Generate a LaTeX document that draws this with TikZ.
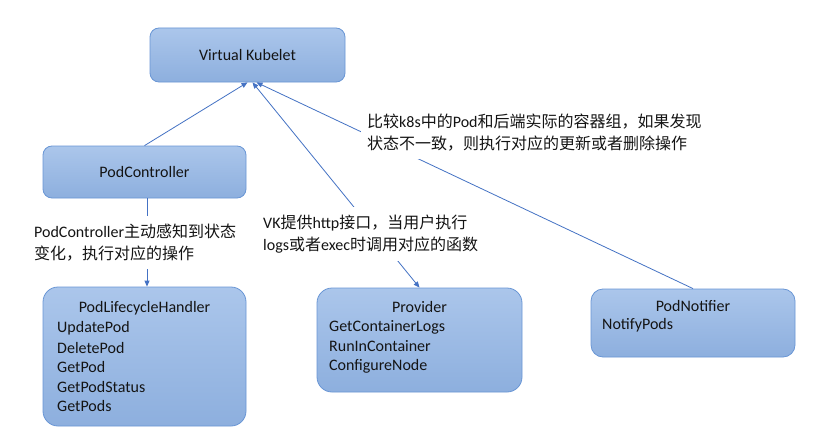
\documentclass[tikz,border=0pt]{standalone}
\usepackage{fontspec}
\setmainfont{Carlito}
\newfontfamily\cjk{Noto Sans CJK SC}
\usetikzlibrary{arrows.meta,calc}
\definecolor{boxtop}{RGB}{171,198,235}
\definecolor{boxbot}{RGB}{141,175,222}
\definecolor{boxline}{RGB}{105,150,213}
\definecolor{conncol}{RGB}{68,114,196}
\definecolor{txtcol}{RGB}{20,20,20}
\newcommand\zh[1]{{\cjk #1}}
\begin{document}
\begin{tikzpicture}[x=1pt,y=-1pt,
 box/.style={draw=boxline, line width=0.8pt, top color=boxtop, bottom color=boxbot, rounded corners=9pt, inner sep=0pt},
 txt/.style={text=txtcol, font=\fontsize{16}{22}\selectfont, inner sep=0pt},
 lbl/.style={txt, fill=white, align=left, inner xsep=6pt, inner ysep=8pt, anchor=west},
 conn/.style={draw=conncol, line width=0.8pt},
 tip/.style={-{Triangle[length=6pt,width=5pt]}},
 tips/.style={{Triangle[length=6pt,width=5pt]}-{Triangle[length=6pt,width=5pt]}}
]
\fill[white] (0,0) rectangle (829,436);
\useasboundingbox (0,0) rectangle (829,436);

% boxes
\node[box, txt, minimum width=195pt, minimum height=54pt] (vk) at (247.5,55) {Virtual Kubelet};
\node[box, txt, minimum width=203pt, minimum height=52pt] (pc) at (144.5,172) {PodController};

\node[box, rounded corners=15pt, minimum width=203pt, minimum height=139pt] (plh) at (144.5,356.5) {};
\node[txt] (plht) at (144.5,308) {PodLifecycleHandler};
\node[txt, anchor=west] (plh1) at (57,328) {UpdatePod};
\node[txt, anchor=west] (plh2) at (57,347.5) {DeletePod};
\node[txt, anchor=west] (plh3) at (57,367) {GetPod};
\node[txt, anchor=west] (plh4) at (57,386.5) {GetPodStatus};
\node[txt, anchor=west] (plh5) at (57,406) {GetPods};

\node[box, rounded corners=15pt, minimum width=205pt, minimum height=104pt] (pv) at (419.5,340) {};
\node[txt] (pvt) at (419.5,307) {Provider};
\node[txt, anchor=west] (pv1) at (329,327) {GetContainerLogs};
\node[txt, anchor=west] (pv2) at (329,346.5) {RunInContainer};
\node[txt, anchor=west] (pv3) at (329,366) {ConfigureNode};

\node[box, rounded corners=12pt, minimum width=204pt, minimum height=68pt] (pn) at (693,323) {};
\node[txt] (pnt) at (693,306) {PodNotifier};
\node[txt, anchor=west] (pn1) at (602,325) {NotifyPods};

% connectors
\draw[conn, tip] (pc.north) -- (vk.south);
\draw[conn, tips] ($(vk.south)+(5,0)$) -- (pv.north);
\draw[conn, tip] (pn.north) -- ($(vk.south)+(9,0)$);
\draw[conn, tip] ($(pc.south)+(2.5,0)$) -- ($(plh.north)+(2.5,0)$);

% labels
\node[lbl] (pcl) at (28,242.5) {PodController\zh{主动感知到状态}\\\zh{变化，执行对应的操作}};
\node[lbl] (vkl) at (257,234) {VK\zh{提供}http\zh{接口，当用户执行}\\logs\zh{或者}exec\zh{时调用对应的函数}};
\node[lbl] (cmpl) at (361,132.5) {\zh{比较}k8s\zh{中的}Pod\zh{和后端实际的容器组，如果发现}\\\zh{状态不一致，则执行对应的更新或者删除操作}};
\end{tikzpicture}
\end{document}
